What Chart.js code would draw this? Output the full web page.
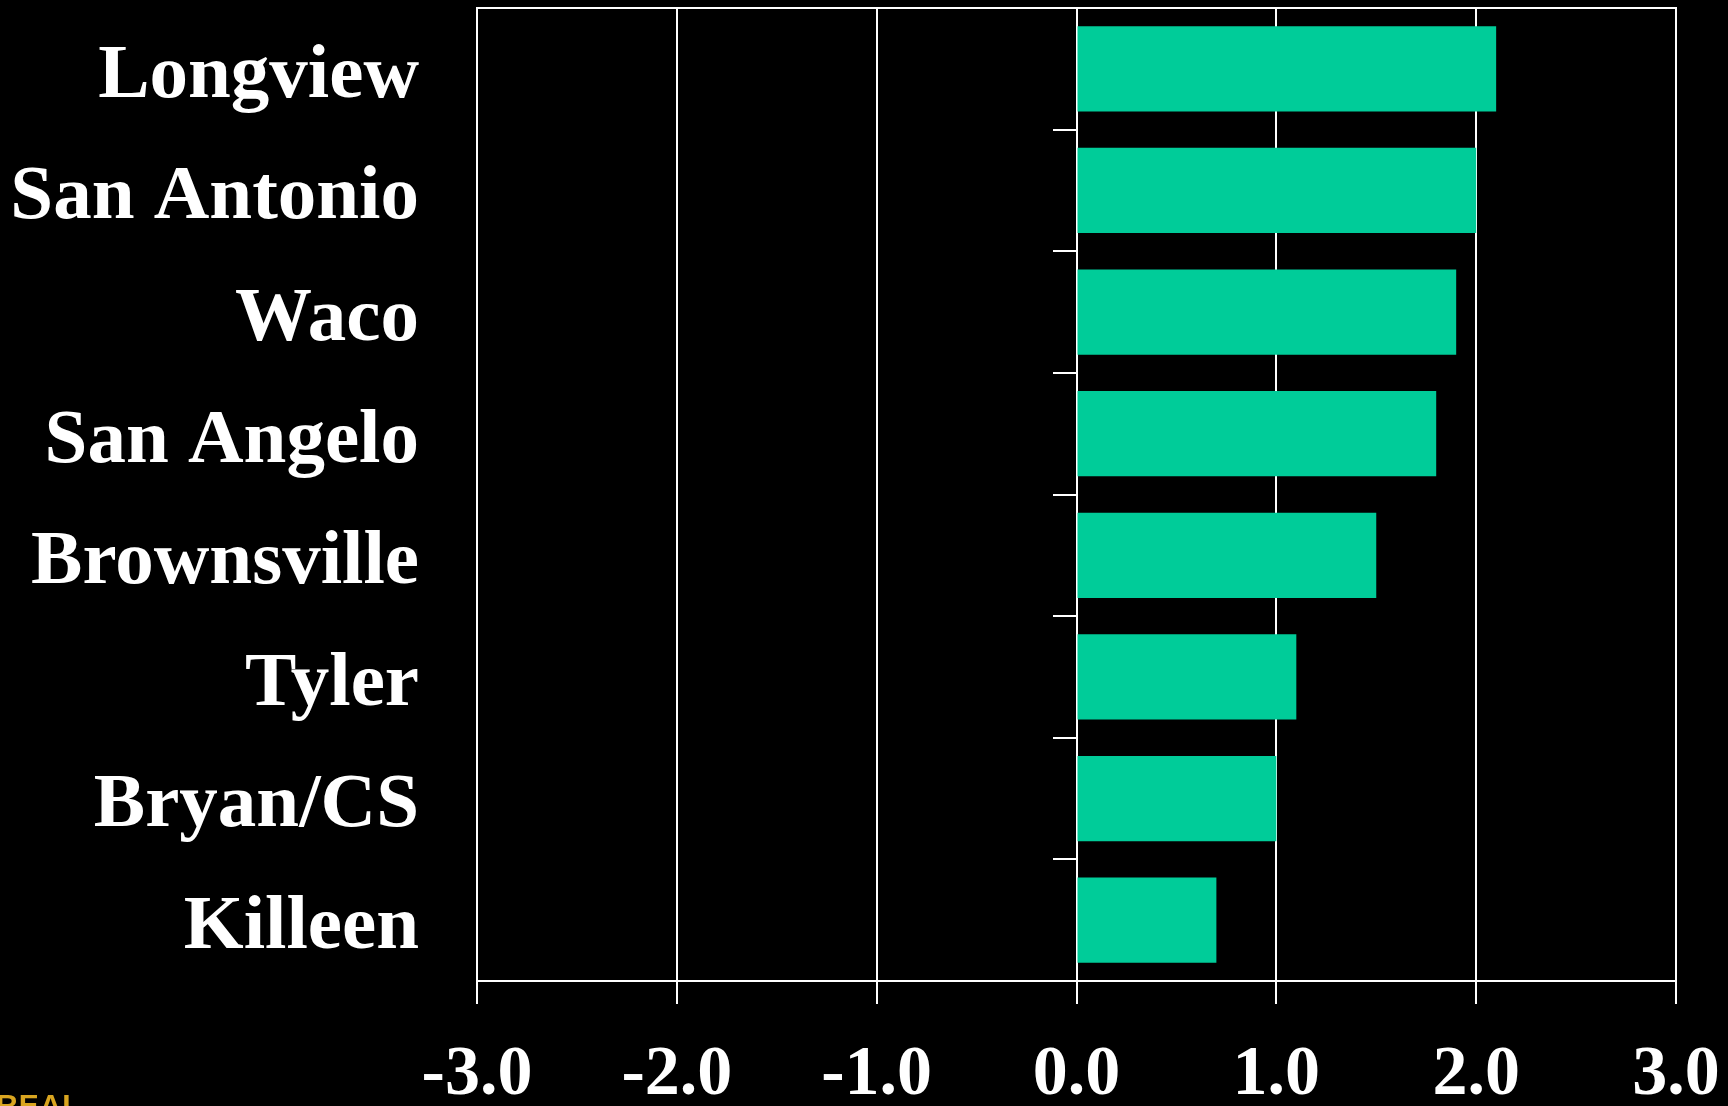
<!DOCTYPE html>
<html>
<head>
<meta charset="utf-8">
<script src="https://cdn.jsdelivr.net/npm/chart.js@4.4.1/dist/chart.umd.min.js"></script>
<style>
  html, body { margin: 0; padding: 0; background: #000; overflow: hidden; }
  #wrap { position: relative; width: 1728px; height: 1106px; }
  #logo {
    position: absolute; left: -4px; top: 1088px;
    font: bold 30px 'Liberation Sans', Arial, sans-serif;
    color: #d9a520; letter-spacing: 1px;
  }
</style>
</head>
<body>
<div id="wrap">
  <canvas id="chart" width="1728" height="1106"></canvas>
  <div id="logo">REAL</div>
</div>
<script>
const cities = ['Longview', 'San Antonio', 'Waco', 'San Angelo', 'Brownsville', 'Tyler', 'Bryan/CS', 'Killeen'];
const values = [2.1, 2.0, 1.9, 1.8, 1.5, 1.1, 1.0, 0.7];
const xMin = -3;
const xMax = 3;

const serif = "'Liberation Serif', 'Times New Roman', serif";

const ctx = document.getElementById('chart').getContext('2d');

new Chart(ctx, {
  type: 'bar',
  data: {
    labels: cities,
    datasets: [{
      data: values,
      backgroundColor: '#00cc99',
      borderWidth: 0,
      barPercentage: 0.7,
      categoryPercentage: 1
    }]
  },
  options: {
    indexAxis: 'y',
    responsive: false,
    animation: false,
    layout: { padding: { top: 7, right: 52, left: 0, bottom: 0 } },
    plugins: {
      legend: { display: false },
      tooltip: { enabled: false }
    },
    scales: {
      x: {
        type: 'linear',
        min: xMin,
        max: xMax,
        ticks: {
          stepSize: 1,
          color: '#fff',
          padding: 30,
          font: { family: serif, size: 70, weight: 'bold' },
          callback: v => v.toFixed(1)
        },
        grid: { color: '#fff', lineWidth: 2, tickLength: 23 },
        border: { color: '#fff', width: 2 },
        afterFit: s => { s.height = 125; s.paddingRight = 0; s.paddingLeft = 0; }
      },
      // top frame line
      xTop: {
        type: 'linear',
        position: 'top',
        min: xMin,
        max: xMax,
        ticks: { display: false },
        grid: { display: false, drawTicks: false },
        border: { color: '#fff', width: 2 },
        afterFit: s => { s.height = 1; s.paddingLeft = 0; s.paddingRight = 0; }
      },
      y: {
        type: 'category',
        ticks: {
          color: '#fff',
          padding: 58,
          labelOffset: 8,
          font: { family: serif, size: 77, weight: 'bold' }
        },
        grid: { display: false, drawTicks: false },
        border: { display: false },
        afterFit: s => { s.width = 477; s.paddingTop = 0; s.paddingBottom = 0; }
      },
      // small category ticks sitting on the zero line
      yMid: {
        type: 'category',
        axis: 'y',
        labels: cities,
        offset: true,
        position: { x: 0 },
        ticks: { display: false },
        grid: { offset: true, drawOnChartArea: false, color: '#fff', lineWidth: 2, tickLength: 24 },
        border: { display: false },
        afterFit: s => { s.paddingTop = 0; s.paddingBottom = 0; }
      }
    }
  }
});
</script>
</body>
</html>
